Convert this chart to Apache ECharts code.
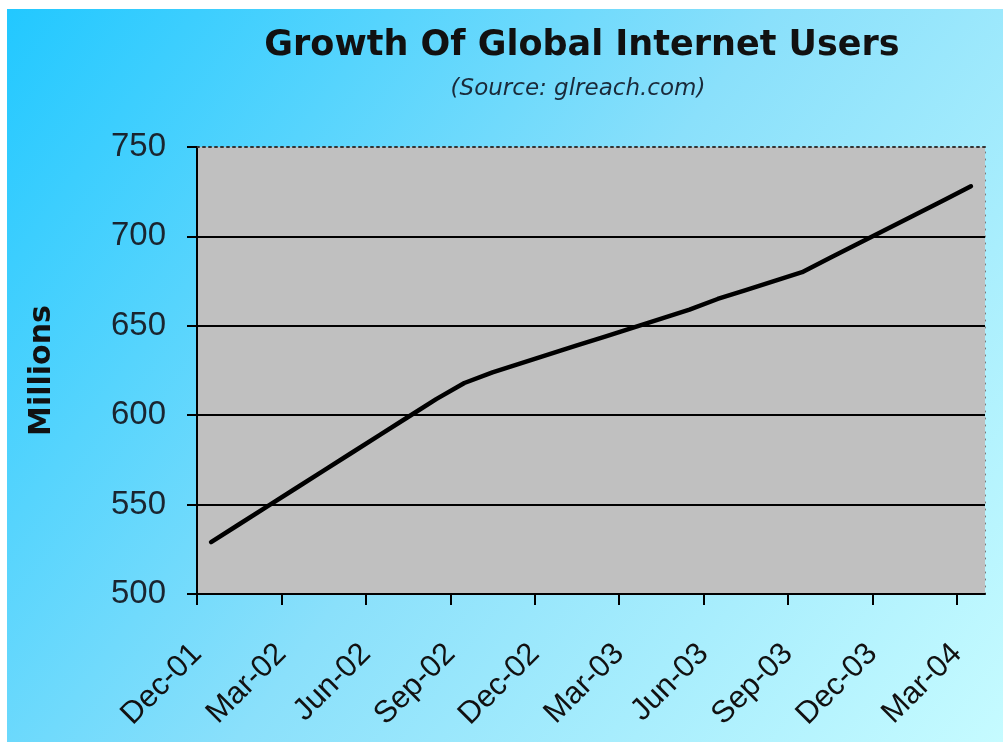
<!DOCTYPE html>
<html>
<head>
<meta charset="utf-8">
<script src="https://cdn.jsdelivr.net/npm/echarts@6/dist/echarts.min.js"></script>
<style>
html,body{margin:0;padding:0;background:#fff;}
#chart{width:1003px;height:742px;}
</style>
</head>
<body>
<div id="chart"></div>
<script>
var titleText = 'Growth Of Global Internet Users';
var subtitleText = '(Source: glreach.com)';
var yAxisName = 'Millions';
var months = ['Dec-01','Jan-02','Feb-02','Mar-02','Apr-02','May-02','Jun-02','Jul-02','Aug-02','Sep-02','Oct-02','Nov-02','Dec-02','Jan-03','Feb-03','Mar-03','Apr-03','May-03','Jun-03','Jul-03','Aug-03','Sep-03','Oct-03','Nov-03','Dec-03','Jan-04','Feb-04','Mar-04'];
var users = [529,539,549,559,569,579,589,599,609,618,624,629,634,639,644,649,654,659,665,670,675,680,688,696,704,712,720,728];
var quarterTicks = [0,3,6,9,12,15,18,21,24,27];
var yTicks = [500,550,600,650,700,750];

var chart = echarts.init(document.getElementById('chart'));
var lineData = months.map(function(m, i){ return [i + 0.5, users[i]]; });

chart.setOption({
  backgroundColor: '#ffffff',
  animation: false,
  graphic: [
    {
      type: 'rect', z: -10, silent: true,
      shape: {x: 7, y: 9, width: 996, height: 733},
      style: {fill: new echarts.graphic.LinearGradient(0, 0, 1, 1, [
        {offset: 0, color: '#22c8ff'},
        {offset: 0.5, color: '#8ae0fb'},
        {offset: 1, color: '#c6fbff'}
      ])}
    },
    {
      type: 'text', x: 582, y: 46, z: 10,
      style: {text: titleText, fontFamily: 'DejaVu Sans', fontWeight: 'bold', fontSize: 35,
        fill: '#111', align: 'center', verticalAlign: 'middle'}
    },
    {
      type: 'text', x: 578, y: 89, z: 10,
      style: {text: subtitleText, fontFamily: 'DejaVu Sans', fontStyle: 'italic', fontSize: 23,
        fill: '#1a2a3a', align: 'center', verticalAlign: 'middle'}
    }
  ],
  grid: {left: 197, right: 18, top: 147, bottom: 148, show: true,
    backgroundColor: '#c0c0c0', borderWidth: 0},
  xAxis: [
    {
      type: 'value', min: 0, max: 28, interval: 3,
      axisLine: {show: true, onZero: false, lineStyle: {color: '#000', width: 2}},
      axisTick: {show: true, length: 11, customValues: quarterTicks, lineStyle: {color: '#000', width: 2}},
      axisLabel: {customValues: quarterTicks, rotate: 45, margin: 55,
        fontFamily: 'Liberation Sans', fontSize: 31, color: '#111',
        formatter: function(v){ return months[v]; }},
      splitLine: {show: false}
    },
    {
      type: 'value', min: 0, max: 28, position: 'top',
      axisLine: {show: true, onZero: false, lineStyle: {color: '#333', width: 2, type: [2, 4]}},
      axisTick: {show: false}, axisLabel: {show: false}, splitLine: {show: false}
    }
  ],
  yAxis: [
    {
      type: 'value', min: 500, max: 750, interval: 50,
      name: yAxisName, nameLocation: 'middle', nameGap: 140, nameRotate: 90,
      nameTextStyle: {fontFamily: 'DejaVu Sans', fontWeight: 'bold', fontSize: 30, color: '#111'},
      axisLine: {show: true, onZero: false, lineStyle: {color: '#000', width: 2}},
      axisTick: {show: true, length: 10, lineStyle: {color: '#000', width: 2}},
      axisLabel: {margin: 31, fontFamily: 'Liberation Sans', fontSize: 33, color: '#1a2530'},
      splitLine: {show: true, showMaxLine: false, showMinLine: false, lineStyle: {color: '#000', width: 2}}
    },
    {
      type: 'value', min: 500, max: 750, position: 'right',
      axisLine: {show: true, onZero: false, lineStyle: {color: '#777', width: 1, type: [1, 6]}},
      axisTick: {show: false}, axisLabel: {show: false}, splitLine: {show: false}
    }
  ],
  series: [{
    type: 'line', xAxisIndex: 0, yAxisIndex: 0,
    data: lineData, showSymbol: false, smooth: false,
    lineStyle: {color: '#000', width: 4.5, cap: 'round', join: 'round'}
  }]
});
</script>
</body>
</html>
